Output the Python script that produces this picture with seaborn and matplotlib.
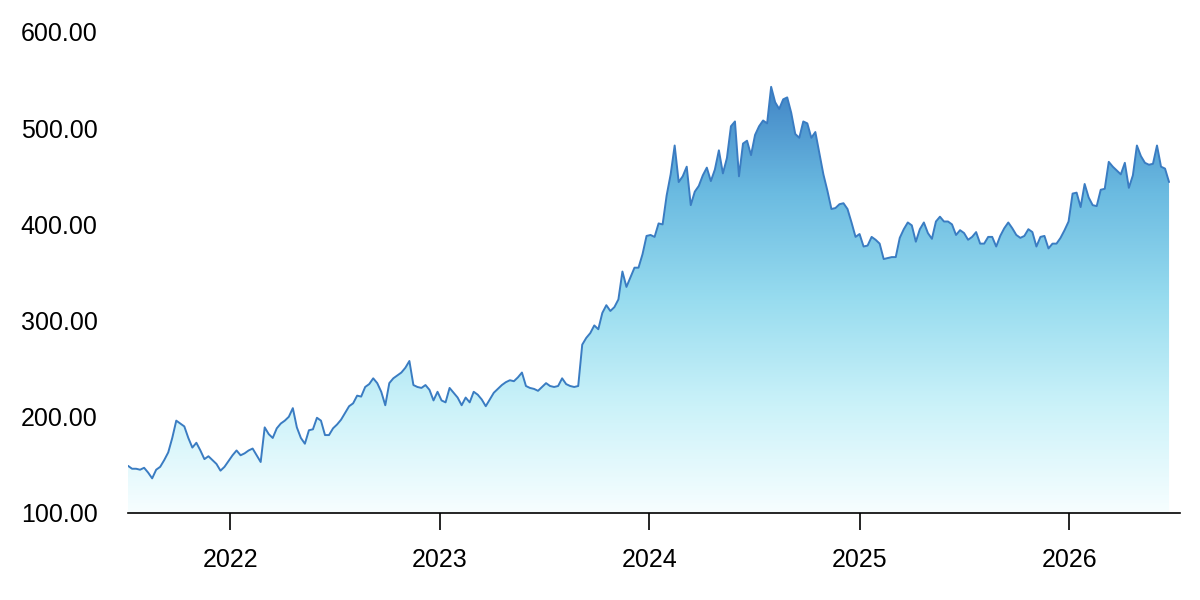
import numpy as np
import pandas as pd
import matplotlib.pyplot as plt
import matplotlib.dates as mdates
from matplotlib.colors import LinearSegmentedColormap
import seaborn as sns

# weekly closing values
start_date = "2021-07-07"
prices = [
    149, 146, 146, 145, 147, 142, 136, 145, 148, 155,
    163, 178, 196, 193, 190, 178, 168, 173, 165, 156,
    159, 155, 151, 144, 148, 154, 160, 165, 160, 162,
    165, 167, 160, 153, 189, 182, 178, 188, 193, 196,
    200, 209, 189, 178, 172, 186, 187, 199, 196, 181,
    181, 188, 192, 197, 204, 211, 214, 222, 221, 231,
    234, 240, 235, 226, 212, 235, 240, 243, 246, 251,
    258, 233, 231, 230, 233, 228, 217, 226, 217, 215,
    230, 225, 220, 212, 220, 215, 226, 223, 218, 211,
    218, 225, 229, 233, 236, 238, 237, 241, 246, 232,
    230, 229, 227, 231, 235, 232, 231, 232, 240, 234,
    232, 231, 232, 275, 282, 287, 295, 291, 308, 316,
    310, 314, 322, 351, 335, 345, 355, 355, 369, 388,
    389, 387, 401, 400, 430, 452, 482, 444, 450, 460,
    420, 434, 440, 451, 459, 445, 457, 477, 453, 469,
    502, 507, 450, 484, 487, 472, 493, 502, 508, 505,
    543, 527, 520, 530, 532, 516, 494, 490, 507, 505,
    490, 496, 474, 452, 435, 416, 417, 421, 422, 416,
    402, 387, 390, 377, 378, 387, 384, 380, 364, 365,
    366, 366, 386, 395, 402, 399, 382, 395, 402, 391,
    385, 403, 408, 403, 403, 400, 389, 394, 391, 384,
    387, 392, 380, 380, 387, 387, 377, 388, 396, 402,
    396, 389, 386, 388, 395, 392, 377, 387, 388, 375,
    380, 380, 386, 394, 403, 432, 433, 418, 442, 428,
    420, 419, 436, 437, 465, 460, 456, 452, 464, 438,
    451, 482, 471, 464, 462, 463, 482, 460, 458, 444,
]
y_ticks = [100, 200, 300, 400, 500, 600]
x_years = [2022, 2023, 2024, 2025, 2026]

df = pd.DataFrame({
    "date": pd.date_range(start_date, periods=len(prices), freq="7D"),
    "price": prices,
})

sns.set_style("white")
plt.rcParams["font.family"] = ["Liberation Sans", "DejaVu Sans"]

fig, ax = plt.subplots(figsize=(12, 6), dpi=100)
fig.subplots_adjust(left=0.1067, right=0.9833, bottom=0.145, top=0.9467)

sns.lineplot(data=df, x="date", y="price", ax=ax, color="#3a7cc2",
             linewidth=1.4, zorder=3)

# gradient area under the line
poly = ax.fill_between(df["date"], df["price"], 100, color="none", linewidth=0)
cmap = LinearSegmentedColormap.from_list(
    "area", ["#f7feff", "#cbf2f9", "#98dcef", "#6bbbe1", "#4185c6"])
xnum = mdates.date2num(df["date"])
grad = np.linspace(0, 1, 256).reshape(-1, 1)
img = ax.imshow(grad, cmap=cmap, aspect="auto", origin="lower",
                extent=[xnum[0], xnum[-1], 100, max(prices)], zorder=2)
img.set_clip_path(poly.get_paths()[0], transform=ax.transData)

ax.set_xlim(pd.Timestamp(start_date), pd.Timestamp("2026-07-13"))
ax.set_ylim(100, 600)

ax.set_xticks([pd.Timestamp(f"{y}-01-01") for y in x_years])
ax.set_xticklabels([str(y) for y in x_years])
ax.set_yticks(y_ticks)
ax.set_yticklabels([f"{v:.2f}" for v in y_ticks])
ax.set_xlabel("")
ax.set_ylabel("")

for side in ["top", "right", "left"]:
    ax.spines[side].set_visible(False)
ax.spines["bottom"].set_color("black")
ax.spines["bottom"].set_linewidth(1.2)

ax.tick_params(axis="x", length=12, width=1.2, color="black", pad=13,
               labelsize=18, labelcolor="black", bottom=True)
ax.tick_params(axis="y", length=0, pad=22, labelsize=18, labelcolor="black")
ax.grid(False)

fig.savefig("out.png", dpi=100)
